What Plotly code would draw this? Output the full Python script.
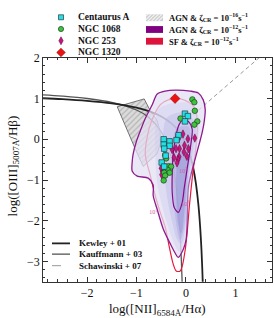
import plotly.graph_objects as go

# ---------------- observed galaxies ----------------
cenA_x = [-0.02, 0.04, -0.02, -0.15, -0.19, -0.45, -0.33, -0.45, -0.33, -0.44, -0.41, -0.49, -0.44]
cenA_y = [0.63, 0.57, 0.44, 0.10, -0.02, 0.00, -0.05, -0.13, -0.16, -0.23, -0.40, -0.57, -0.67]

n1068_x = [0.13, 0.17, 0.18, -0.11, 0.23, 0.17, -0.44, -0.42, -0.40, -0.42, -0.35, -0.30, -0.37, -0.44, -0.33, -0.42, -0.45]
n1068_y = [0.98, 0.91, 0.70, 0.51, 0.44, 0.36, -0.15, -0.39, -0.47, -0.67, -0.66, -0.67, -0.75, -0.82, -0.82, -0.89, -1.01]

n253_x = [-0.06, 0.04, 0.18, -0.15, -0.03, -0.04, -0.13, -0.20, -0.28, 0.02, -0.14, -0.24, -0.16, -0.18, -0.50, -0.47, -0.49, 0.05]
n253_y = [0.13, 0.01, 0.03, 0.01, -0.15, -0.31, -0.23, -0.23, -0.25, -0.42, -0.43, -0.45, -0.50, -0.58, -0.71, -0.79, -0.87, -0.23]

n1320_x = [-0.22]
n1320_y = [1.00]

# ---------------- demarcation lines (tabulated) ----------------
kew_x = [-2.89, -2.5, -2.0, -1.5, -1.0, -0.75, -0.5, -0.3, -0.2, -0.1, 0.0, 0.05, 0.1, 0.15, 0.2, 0.25, 0.275, 0.3, 0.315, 0.33, 0.345]
kew_y = [1.008, 0.985, 0.943, 0.880, 0.775, 0.690, 0.561, 0.398, 0.280, 0.120, -0.108, -0.262, -0.459, -0.716, -1.069, -1.583, -1.938, -2.398, -2.745, -3.167, -3.69]

kau_x = [-2.89, -2.5, -2.0, -1.5, -1.0, -0.75, -0.5, -0.4, -0.3, -0.25, -0.2, -0.15, -0.12, -0.1, -0.08, -0.075]
kau_y = [1.093, 1.061, 1.002, 0.906, 0.719, 0.538, 0.191, -0.056, -0.443, -0.733, -1.14, -1.75, -2.288, -2.767, -3.392, -3.58]

sch_x = [-0.18, 1.50]
sch_y = [0.261, 2.025]

# ---------------- model regions ----------------
hatch_x = [-1.390, -0.844, -0.722, -0.581, -0.520, -0.520, -0.581, -0.864, -1.026, -1.228, -1.390]
hatch_y = [0.800, 0.992, 0.704, 0.463, 0.175, -0.113, -0.353, -0.666, -0.233, 0.319, 0.800]

agn_out_x = [-0.682, -0.581, -0.419, -0.216, 0.087, 0.249, 0.350, 0.390, 0.370, 0.330, 0.269, 0.188, 0.107, 0.047,
             0.026, 0.006, -0.055, -0.156, -0.237, -0.318, -0.459, -0.581, -0.662, -0.662, -0.763, -0.985, -1.086,
             -1.086, -1.066, -1.005, -0.925, -0.823, -0.682]
agn_out_y = [0.848, 1.112, 1.184, 1.208, 1.184, 1.136, 0.968, 0.728, 0.440, 0.175, -0.113, -0.473, -0.834, -1.194,
             -1.866, -2.442, -2.707, -2.899, -2.755, -2.563, -2.202, -1.722, -1.386, -1.121, -0.953, -0.905, -0.785,
             -0.545, -0.353, -0.065, 0.199, 0.512, 0.848]

g2_x = [-0.560, -0.216, 0.127, 0.269, 0.229, 0.127, 0.067, 0.026, -0.034, -0.136, -0.237, -0.378, -0.500, -0.581, -0.621, -0.621, -0.560]
g2_y = [0.728, 0.896, 0.848, 0.487, -0.113, -0.713, -1.314, -2.034, -2.515, -2.755, -2.563, -2.082, -1.554, -1.073, -0.353, 0.247, 0.728]
g3_x = [-0.358, -0.014, 0.188, 0.148, 0.067, 0.026, -0.014, -0.095, -0.176, -0.277, -0.378, -0.439, -0.459, -0.439, -0.358]
g3_y = [0.560, 0.656, 0.367, -0.233, -0.834, -1.554, -2.154, -2.563, -2.466, -2.034, -1.434, -0.834, -0.113, 0.367, 0.560]
g4_x = [-0.196, 0.047, 0.107, 0.047, 0.006, -0.034, -0.115, -0.176, -0.237, -0.277, -0.277, -0.196]
g4_y = [0.247, 0.319, -0.113, -0.834, -1.554, -2.154, -2.466, -2.226, -1.674, -0.953, -0.233, 0.247]
g5_x = [-0.136, 0.006, 0.006, -0.034, -0.095, -0.156, -0.196, -0.196, -0.136]
g5_y = [-0.353, -0.353, -1.073, -1.794, -2.322, -2.082, -1.434, -0.834, -0.353]

agn_in_x = [-0.055, 0.067, 0.127, 0.087, 0.026, -0.034, -0.075, -0.156, -0.237, -0.277, -0.277, -0.257, -0.196, -0.136, -0.055]
agn_in_y = [0.487, 0.415, 0.247, -0.233, -0.713, -1.194, -1.554, -1.794, -1.674, -1.314, -0.834, -0.353, 0.127, 0.367, 0.487]

sf_x = [-0.520, -0.720, -0.823, -0.722, -0.621, -0.520, -0.419, -0.338, -0.257, -0.196, -0.115, -0.075, -0.014, 0.026,
        0.067, 0.127, 0.208, 0.229, 0.127, -0.115, -0.358, -0.520]
sf_y = [0.848, 0.367, -0.353, -0.881, -1.386, -1.794, -2.154, -2.635, -3.067, -3.235, -3.235, -3.115, -2.707, -2.274,
        -1.674, -0.953, -0.113, 0.487, 0.848, 0.992, 0.968, 0.848]

clab_x = [-0.66, -0.055, -0.014]
clab_y = [-1.80, -0.79, -1.60]
clab_t = ["10<sup>1</sup>", "10<sup>2</sup>", "10<sup>3</sup>"]

# legend labels
obs_names = ["Centaurus A", "NGC 1068", "NGC 253", "NGC 1320"]
model_names = ["AGN &amp; ζ<sub>CR</sub> = 10<sup>−16</sup>s<sup>−1</sup>",
               "AGN &amp; ζ<sub>CR</sub> = 10<sup>−12</sup>s<sup>−1</sup>",
               "SF &amp; ζ<sub>CR</sub> = 10<sup>−12</sup>s<sup>−1</sup>"]
line_names = ["Kewley + 01", "Kauffmann + 03", "Schawinski + 07"]

SERIF = "Liberation Serif"
W, H = 274, 318


def px(v):
    return v / W


def py(v):
    return 1 - v / H


fig = go.Figure()

# hatched model grid
fig.add_trace(go.Scatter(x=hatch_x, y=hatch_y, mode="lines", fill="toself",
                         fillcolor="#dcdcdc",
                         fillpattern=dict(shape="/", bgcolor="#dcdcdc", fgcolor="#8a8a8a", size=4, solidity=0.3),
                         line=dict(color="#555555", width=0.8), hoverinfo="skip"))
# demarcation lines
fig.add_trace(go.Scatter(x=kau_x, y=kau_y, mode="lines", line=dict(color="#555555", width=1.3, shape="spline")))
fig.add_trace(go.Scatter(x=kew_x, y=kew_y, mode="lines", line=dict(color="#222222", width=1.8, shape="spline")))
fig.add_trace(go.Scatter(x=sch_x, y=sch_y, mode="lines", line=dict(color="#999999", width=1.0, dash="4px,3px")))
# SF contour (under the AGN fill)
fig.add_trace(go.Scatter(x=sf_x, y=sf_y, mode="lines", line=dict(color="#e8173c", width=1.2, shape="spline", smoothing=0.8)))
# AGN density fill
fig.add_trace(go.Scatter(x=agn_out_x, y=agn_out_y, mode="lines", fill="toself", fillcolor="rgba(226,224,244,0.74)",
                         line=dict(color="#8e1b8e", width=1.3, shape="spline", smoothing=0.8)))
for gx, gy, c in [(g2_x, g2_y, "rgba(205,203,237,0.4)"), (g3_x, g3_y, "rgba(185,183,230,0.4)"),
                  (g4_x, g4_y, "rgba(165,163,220,0.4)"), (g5_x, g5_y, "rgba(145,145,212,0.45)")]:
    fig.add_trace(go.Scatter(x=gx, y=gy, mode="lines", fill="toself", fillcolor=c,
                             line=dict(width=0, shape="spline", smoothing=1.0)))
fig.add_trace(go.Scatter(x=agn_in_x, y=agn_in_y, mode="lines",
                         line=dict(color="#8a0a8a", width=1.2, shape="spline", smoothing=0.8)))
fig.add_trace(go.Scatter(x=clab_x, y=clab_y, mode="text", text=clab_t,
                         textfont=dict(family=SERIF, size=6, color="#d0609a")))

# observations
fig.add_trace(go.Scatter(x=n253_x, y=n253_y, mode="markers",
                         marker=dict(symbol="diamond-tall", size=6, color="#c8157d", line=dict(color="#5a0838", width=0.5))))
fig.add_trace(go.Scatter(x=n1068_x, y=n1068_y, mode="markers",
                         marker=dict(symbol="circle", size=5.5, color="#3cc43c", line=dict(color="#1f3f1f", width=0.7))))
fig.add_trace(go.Scatter(x=cenA_x, y=cenA_y, mode="markers",
                         marker=dict(symbol="square", size=5.5, color="#22e0e8", line=dict(color="#2a3a3a", width=0.7))))
fig.add_trace(go.Scatter(x=n1320_x, y=n1320_y, mode="markers",
                         marker=dict(symbol="diamond", size=7.5, color="#ee1111", line=dict(color="#7a0000", width=0.5))))

# ---------------- legends (paper coordinates; margins are zero) ----------------
shapes = []
rows1 = [10.5, 22.5, 34.5, 46.5]
key_x = 61
base = dict(xref="paper", yref="paper", xsizemode="pixel", ysizemode="pixel", xanchor=px(key_x))
shapes.append(dict(type="rect", x0=-2.5, x1=2.5, y0=-2.5, y1=2.5, yanchor=py(rows1[0]),
                   fillcolor="#22e0e8", line=dict(color="#2a3a3a", width=0.7), **base))
shapes.append(dict(type="circle", x0=-2.6, x1=2.6, y0=-2.6, y1=2.6, yanchor=py(rows1[1]),
                   fillcolor="#3cc43c", line=dict(color="#1f3f1f", width=0.7), **base))
shapes.append(dict(type="path", path="M0,4 L2.2,0 L0,-4 L-2.2,0 Z", yanchor=py(rows1[2]),
                   fillcolor="#c8157d", line=dict(color="#5a0838", width=0.5), **base))
shapes.append(dict(type="path", path="M0,4.3 L4.3,0 L0,-4.3 L-4.3,0 Z", yanchor=py(rows1[3]),
                   fillcolor="#ee1111", line=dict(color="#7a0000", width=0.5), **base))

rows2 = [11, 23, 35]
patch_cols = ["#cfcfcf", "#800080", "#dc143c"]
for r, c in zip(rows2, patch_cols):
    shapes.append(dict(type="rect", xref="paper", yref="paper", x0=px(146), x1=px(163), y0=py(r + 3.5), y1=py(r - 3.5),
                       fillcolor=c, line=dict(width=0)))
shapes.append(dict(type="path", xref="paper", yref="paper", xsizemode="pixel", ysizemode="pixel",
                   xanchor=px(146), yanchor=py(rows2[0] + 3.5),
                   path="M0,5 L2,7 M0,1.5 L5.5,7 M2,0 L9,7 M5.5,0 L12.5,7 M9,0 L16,7 M12.5,0 L17,4.5",
                   line=dict(color="#f4f4f4", width=1.1)))

rows3 = [241.7, 252.7, 264.5]
line_st = [dict(color="#222222", width=1.8), dict(color="#555555", width=1.3), dict(color="#999999", width=1.0, dash="dash")]
for r, st in zip(rows3, line_st):
    shapes.append(dict(type="line", xref="paper", yref="paper", x0=px(52), x1=px(70), y0=py(r), y1=py(r), line=st))

ann = []
for r, t in zip(rows1, obs_names):
    ann.append(dict(x=px(76), y=py(r), text=f"<b>{t}</b>", xanchor="left", yanchor="middle", font=dict(size=9.5)))
for r, t in zip(rows2, model_names):
    ann.append(dict(x=px(167), y=py(r), text=f"<b>{t}</b>", xanchor="left", yanchor="middle", font=dict(size=8.5)))
for r, t in zip(rows3, line_names):
    ann.append(dict(x=px(77), y=py(r), text=f"<b>{t}</b>", xanchor="left", yanchor="middle", font=dict(size=9)))
ann.append(dict(x=px(157.5), y=py(298.5), text="log([NII]<sub>6584Å</sub>/Hα)", xanchor="center", yanchor="top", font=dict(size=13)))
ann.append(dict(x=px(13), y=py(163), text="log([OIII]<sub>5007Å</sub>/Hβ)", textangle=-90, xanchor="center", yanchor="middle", font=dict(size=13)))
for a in ann:
    a.update(xref="paper", yref="paper", showarrow=False)
    a["font"].update(family=SERIF, color="#111111")

axis_common = dict(showgrid=False, zeroline=False, showline=True, linecolor="#333333", linewidth=0.8,
                   mirror="ticks", ticks="inside", ticklen=5, tickwidth=0.8, tickcolor="#333333",
                   tickfont=dict(family=SERIF, size=12, color="#111111"),
                   minor=dict(ticks="inside", ticklen=2.5, tickwidth=0.6, tickcolor="#333333", dtick=0.2, showgrid=False))

fig.update_layout(
    width=W, height=H, margin=dict(l=0, r=0, t=0, b=0),
    paper_bgcolor="white", plot_bgcolor="white", showlegend=False,
    xaxis=dict(domain=[43 / W, 272 / W], range=[-2.89, 1.74], dtick=1, tick0=0, **axis_common),
    yaxis=dict(domain=[37 / H, 266 / H], range=[-3.5, 2], dtick=1, tick0=0, **axis_common),
    annotations=ann, shapes=shapes,
)

fig.write_html("out.html", config={"displayModeBar": False},
               post_script="document.body.style.margin='0';document.body.style.padding='0';")
